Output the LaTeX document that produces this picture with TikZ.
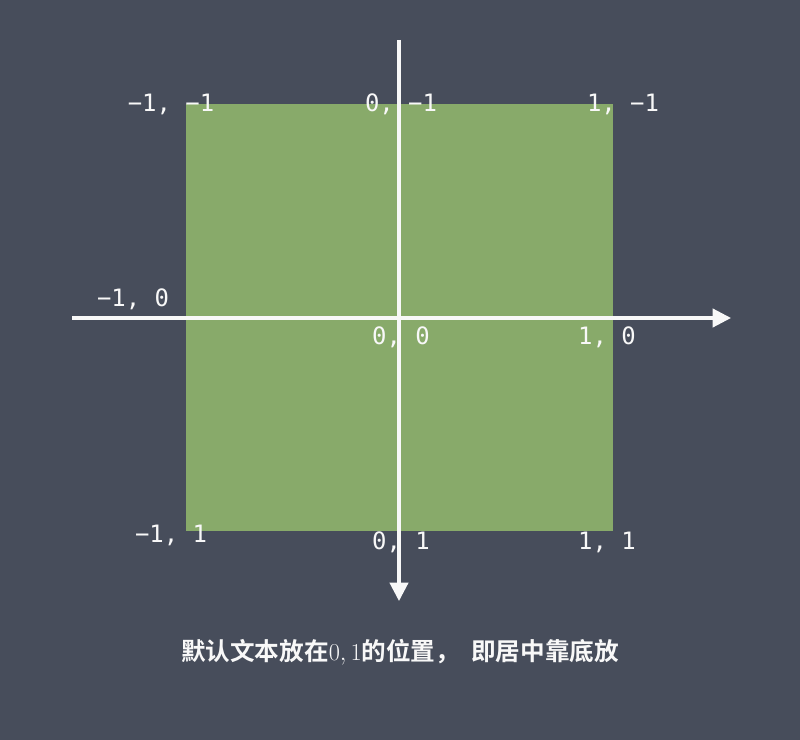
\documentclass[tikz,border=0pt]{standalone}
\usepackage{fontspec}
\setmonofont{DejaVu Sans Mono}
\newfontfamily\cjkfont{Noto Sans CJK SC}[BoldFont={Noto Sans CJK SC Bold}]
\usetikzlibrary{arrows.meta,positioning,calc}
\definecolor{board}{RGB}{71,77,91}
\definecolor{paper}{RGB}{136,170,106}
\definecolor{chalk}{RGB}{248,248,248}
\tikzset{
  axis/.style={-{Triangle[length=4.6mm, width=4.6mm]}, chalk, line width=2.2pt},
  lab/.style={font=\ttfamily\fontsize{17}{19}\selectfont, text=chalk, inner sep=0pt, anchor=base},
  notecap/.style={font=\cjkfont\bfseries\fontsize{17.5}{19}\selectfont, text=chalk, inner sep=0pt, anchor=base},
}
\begin{document}
\begin{tikzpicture}[x=0.025cm, y=-0.025cm]
  \fill[board] (0,0) rectangle (800,740);
  \useasboundingbox (0,0) rectangle (800,740);
  % canvas square
  \node[fill=paper, minimum size=10.675cm, inner sep=0pt, anchor=north west] (sq) at (186,104) {};
  % axes
  \coordinate (xl) at (72,318);  \coordinate (xr) at (731,318);
  \coordinate (yt) at (399,40);  \coordinate (yb) at (399,601);
  \draw[axis] (xl) -- (xr);
  \draw[axis] (yt) -- (yb);
  % corner labels
  \node[lab] (mm) at (171,112) {−1, −1};
  \node[lab] (zm) at (401,112) {0, −1};
  \node[lab] (pm) at (623,112) {1, −1};
  \node[lab] (mz) at (133,307) {−1, 0};
  \node[lab] (zz) at (401,345) {0, 0};
  \node[lab] (pz) at (607,345) {1, 0};
  \node[lab] (mp) at (171,542) {−1, 1};
  \node[lab] (zp) at (401,549) {0, 1};
  \node[lab] (pp) at (607,549) {1, 1};
  \node[notecap] (note) at (400,660) {默认文本放在{\mdseries\fontsize{18}{20}\selectfont$0,1$}的位置，\hspace{0.45em}即居中靠底放};
\end{tikzpicture}
\end{document}
